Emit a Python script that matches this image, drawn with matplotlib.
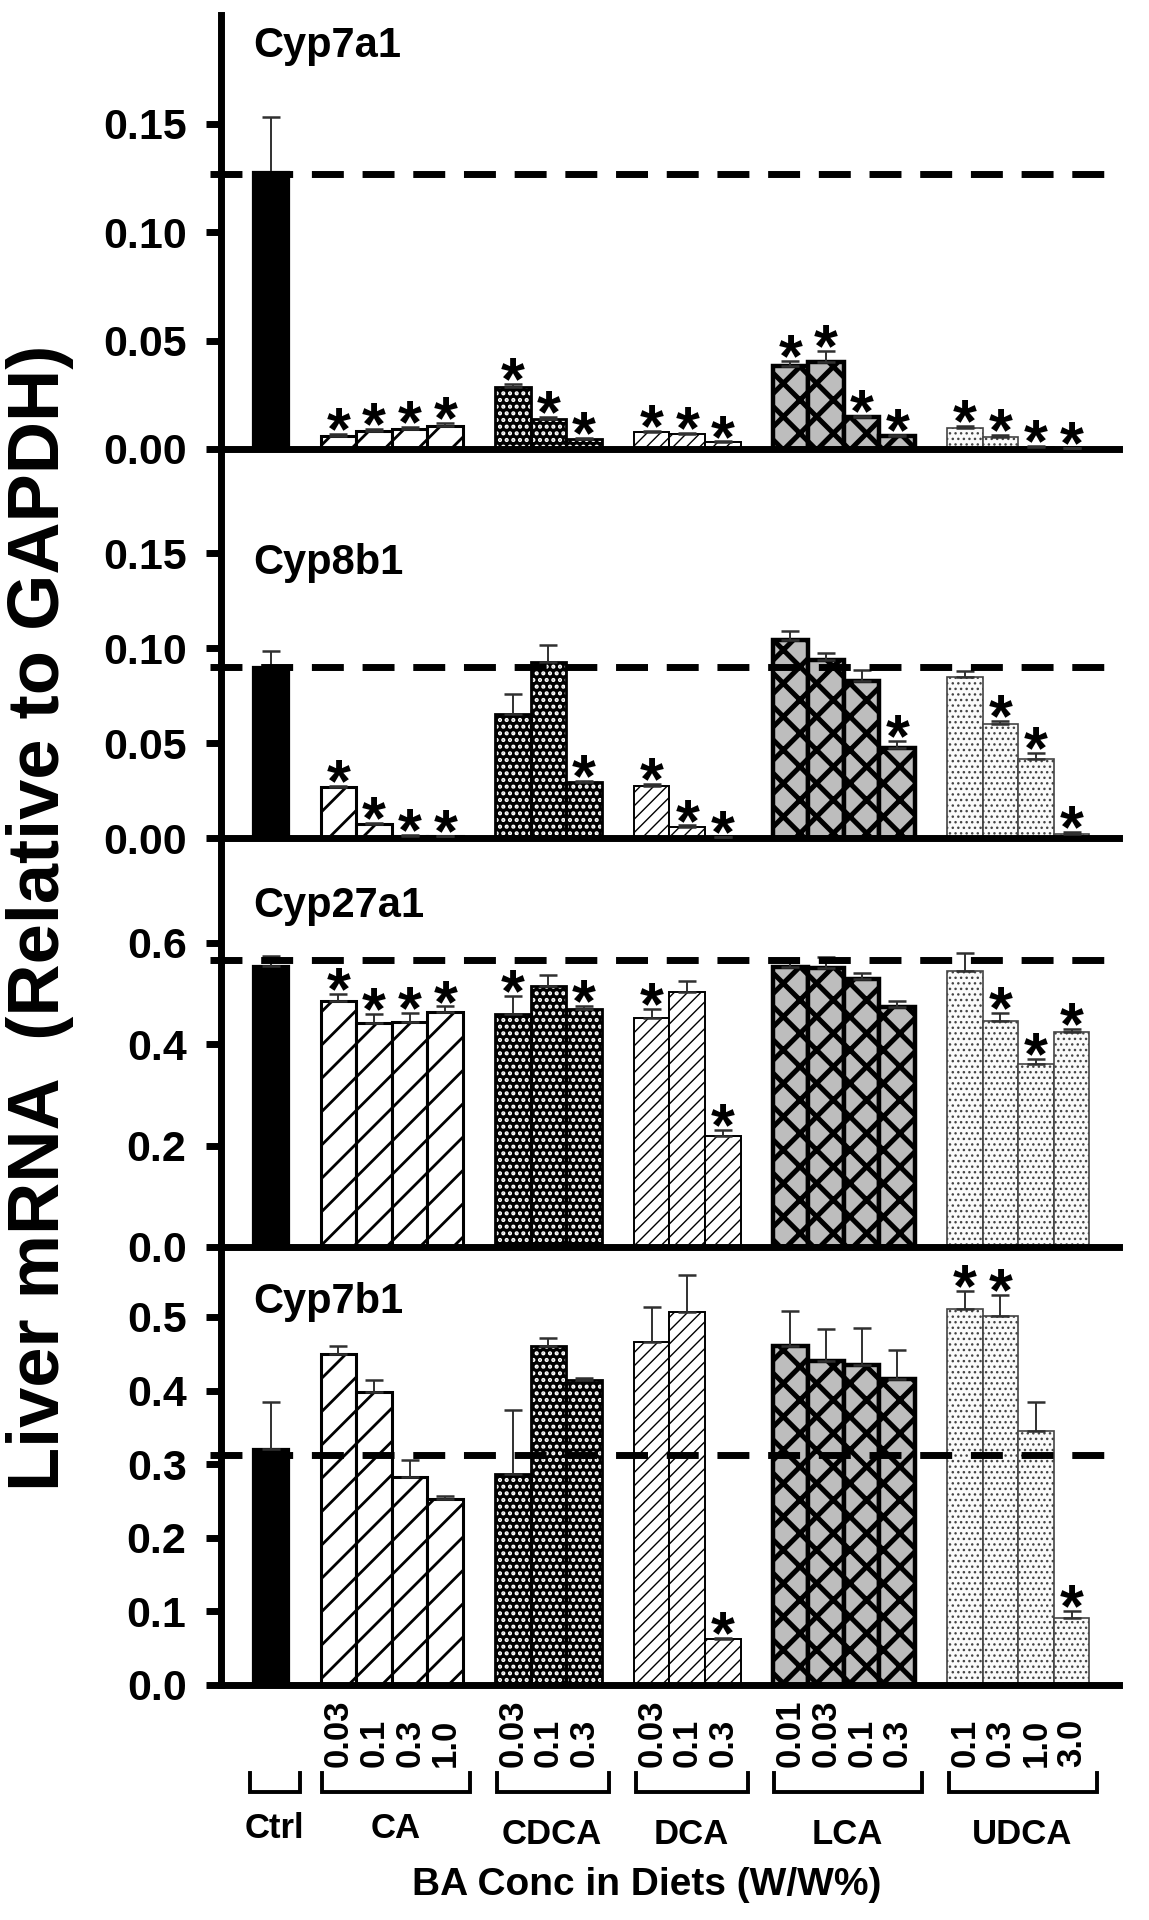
import matplotlib
matplotlib.use('Agg')
import matplotlib.pyplot as plt
import numpy as np
from matplotlib.transforms import blended_transform_factory
from matplotlib.lines import Line2D

plt.rcParams['font.family'] = ['Liberation Sans', 'DejaVu Sans']

# ---------------- data ----------------
group_names = ['Ctrl', 'CA', 'CDCA', 'DCA', 'LCA', 'UDCA']
ctrl_conc = ['']
ca_conc = ['0.03', '0.1', '0.3', '1.0']
cdca_conc = ['0.03', '0.1', '0.3']
dca_conc = ['0.03', '0.1', '0.3']
lca_conc = ['0.01', '0.03', '0.1', '0.3']
udca_conc = ['0.1', '0.3', '1.0', '3.0']
group_concs = [ctrl_conc, ca_conc, cdca_conc, dca_conc, lca_conc, udca_conc]

genes = ['Cyp7a1', 'Cyp8b1', 'Cyp27a1', 'Cyp7b1']

# order: Ctrl, CA x4, CDCA x3, DCA x3, LCA x4, UDCA x4
cyp7a1_mean = [0.128, 0.0062, 0.0085, 0.0092, 0.0108, 0.0288, 0.0138, 0.0046,
               0.0077, 0.0069, 0.0031, 0.0382, 0.0400, 0.0146, 0.0058,
               0.0095, 0.0054, 0.0010, 0.0003]
cyp7a1_err = [0.025, 0.0008, 0.0008, 0.0010, 0.0012, 0.0012, 0.0010, 0.0004,
              0.0006, 0.0005, 0.0004, 0.0023, 0.0054, 0.0006, 0.0006,
              0.0010, 0.0011, 0.0003, 0.0002]
cyp7a1_star = [0, 1, 1, 1, 1, 1, 1, 1, 1, 1, 1, 1, 1, 1, 1, 1, 1, 1, 1]
cyp7a1_ref = 0.127

cyp8b1_mean = [0.090, 0.0267, 0.0074, 0.0012, 0.0010, 0.0653, 0.0925, 0.0293,
               0.0276, 0.0060, 0.0005, 0.1043, 0.0938, 0.0829, 0.0472,
               0.0850, 0.0600, 0.0416, 0.0021]
cyp8b1_err = [0.0087, 0.0008, 0.0006, 0.0003, 0.0003, 0.0106, 0.0092, 0.0008,
              0.0009, 0.0006, 0.0002, 0.0049, 0.0035, 0.0056, 0.0041,
              0.0028, 0.0018, 0.0030, 0.0009]
cyp8b1_star = [0, 1, 1, 1, 1, 0, 0, 1, 1, 1, 1, 0, 0, 0, 1, 0, 1, 1, 1]
cyp8b1_ref = 0.090

cyp27a1_mean = [0.553, 0.485, 0.442, 0.444, 0.463, 0.459, 0.514, 0.469,
                0.452, 0.503, 0.218, 0.551, 0.549, 0.529, 0.473,
                0.543, 0.446, 0.360, 0.424]
cyp27a1_err = [0.020, 0.013, 0.017, 0.017, 0.011, 0.036, 0.022, 0.006,
               0.018, 0.022, 0.013, 0.010, 0.022, 0.010, 0.011,
               0.036, 0.016, 0.010, 0.005]
cyp27a1_star = [0, 1, 1, 1, 1, 1, 0, 1, 1, 0, 1, 0, 0, 0, 0, 0, 1, 1, 1]
cyp27a1_ref = 0.566

cyp7b1_mean = [0.321, 0.450, 0.398, 0.282, 0.252, 0.286, 0.460, 0.415,
               0.466, 0.507, 0.062, 0.461, 0.440, 0.435, 0.416,
               0.511, 0.501, 0.345, 0.091]
cyp7b1_err = [0.063, 0.010, 0.017, 0.023, 0.005, 0.088, 0.012, 0.002,
              0.048, 0.050, 0.002, 0.047, 0.043, 0.050, 0.039,
              0.024, 0.029, 0.039, 0.009]
cyp7b1_star = [0, 0, 0, 0, 0, 0, 0, 0, 0, 0, 1, 0, 0, 0, 0, 1, 1, 0, 1]
cyp7b1_ref = 0.312

yticks_7a1 = [0.00, 0.05, 0.10, 0.15]
yticks_8b1 = [0.00, 0.05, 0.10, 0.15]
yticks_27a1 = [0.0, 0.2, 0.4, 0.6]
yticks_7b1 = [0.0, 0.1, 0.2, 0.3, 0.4, 0.5]
ytl_7a1 = ['0.00', '0.05', '0.10', '0.15']
ytl_8b1 = ['0.00', '0.05', '0.10', '0.15']
ytl_27a1 = ['0.0', '0.2', '0.4', '0.6']
ytl_7b1 = ['0.0', '0.1', '0.2', '0.3', '0.4', '0.5']

panels = [
    (genes[0], cyp7a1_mean, cyp7a1_err, cyp7a1_star, cyp7a1_ref, yticks_7a1, ytl_7a1),
    (genes[1], cyp8b1_mean, cyp8b1_err, cyp8b1_star, cyp8b1_ref, yticks_8b1, ytl_8b1),
    (genes[2], cyp27a1_mean, cyp27a1_err, cyp27a1_star, cyp27a1_ref, yticks_27a1, ytl_27a1),
    (genes[3], cyp7b1_mean, cyp7b1_err, cyp7b1_star, cyp7b1_ref, yticks_7b1, ytl_7b1),
]

# ---------------- layout ----------------
W, H, DPI = 1149, 1920, 200
fig = plt.figure(figsize=(W / DPI, H / DPI), dpi=DPI)
fig.patch.set_facecolor('white')

def fx(px):
    return px / W

def fy(py):
    return 1 - py / H

AX_L, AX_R = 221, 1119
panel_px = [(15, 449), (449, 838), (838, 1247), (1247, 1685)]
ylims = [0.2003, 0.205, 0.806, 0.595]
title_y = [0.186, 0.145, 0.672, 0.52]
XLIM = (-0.9, 24.33)
GAP = 0.9

sizes = [len(c) for c in group_concs]
lefts = []
pos = 0.0
group_spans = []
for n in sizes:
    start = pos
    for k in range(n):
        lefts.append(pos)
        pos += 1.0
    group_spans.append((start, pos))
    pos += GAP
lefts = np.array(lefts)
centers = lefts + 0.5

group_of_bar = []
for gi, n in enumerate(sizes):
    group_of_bar += [gi] * n
group_of_bar = np.array(group_of_bar)

styles = {
    0: dict(face='black', edge='black', lw=0.8, hatch=None, hlw=0.5),
    1: dict(face='white', edge='black', lw=1.1, hatch='//', hlw=1.0),
    2: dict(face='black', edge='white', lw=0.0, hatch='.....', hlw=1.0),
    3: dict(face='white', edge='black', lw=0.7, hatch='/////', hlw=0.5),
    4: dict(face='#bdbdbd', edge='black', lw=1.6, hatch='xx', hlw=1.8),
    5: dict(face='#fafafa', edge='#444444', lw=0.6, hatch='......', hlw=0.5),
}

axes = []
for pi, (gene, mean, err, star, ref, yt, ytl) in enumerate(panels):
    top, bot = panel_px[pi]
    ax = fig.add_axes([fx(AX_L), fy(bot), fx(AX_R) - fx(AX_L), (bot - top) / H])
    ax.set_facecolor('none')
    mean = np.array(mean)
    err = np.array(err)
    for gi in range(len(group_names)):
        sel = group_of_bar == gi
        st = styles[gi]
        with plt.rc_context({'hatch.linewidth': st['hlw']}):
            bars = ax.bar(centers[sel], mean[sel], width=1.0, color=st['face'],
                          edgecolor=st['edge'], linewidth=st['lw'],
                          hatch=st['hatch'], zorder=2)
            for b in bars:
                if hasattr(b, 'set_hatch_linewidth'):
                    b.set_hatch_linewidth(st['hlw'])
        if gi == 2:
            ax.bar(centers[sel], mean[sel], width=1.0, color='none',
                   edgecolor='black', linewidth=1.0, zorder=2.5)
    ax.errorbar(centers, mean, yerr=[np.zeros_like(err), err], fmt='none',
                ecolor='#303030', elinewidth=0.7, capsize=3.2, capthick=0.9,
                zorder=3)
    for c, m, e, s in zip(centers, mean, err, star):
        if s:
            ax.annotate('*', xy=(c, m + e), xytext=(0, -5.5),
                        textcoords='offset points', ha='center', va='baseline',
                        fontsize=22, fontweight='bold', zorder=7)
    ax.plot([-1.21, 24.38], [ref, ref], color='black', lw=2.5,
            linestyle=(0, (4.6, 2.7)), dash_capstyle='butt', clip_on=False,
            zorder=6)
    ax.set_xlim(*XLIM)
    ax.set_ylim(0, ylims[pi])
    ax.set_yticks(yt)
    ax.set_yticklabels(ytl, fontweight='bold', fontsize=15.5)
    ax.set_xticks([])
    for side in ['top', 'right']:
        ax.spines[side].set_visible(False)
    for side in ['left', 'bottom']:
        ax.spines[side].set_linewidth(2.5)
    ax.tick_params(axis='y', direction='out', length=5.4, width=2.5, pad=7)
    ax.text(0.0, title_y[pi], gene, ha='left', va='center', fontsize=15,
            fontweight='bold')
    axes.append(ax)

# ---------------- x-axis annotations ----------------
ax4 = axes[-1]
tr = blended_transform_factory(ax4.transData, fig.transFigure)
conc_labels = [c for g in group_concs for c in g]
for c, lab in zip(centers, conc_labels):
    if lab:
        ax4.text(c, fy(1767), lab, transform=tr, rotation=90, ha='center',
                 va='bottom', fontsize=12.5, fontweight='bold')

label_y_px = [1828, 1828, 1834, 1834, 1834, 1834]
for gi, (s, e) in enumerate(group_spans):
    l, r = s + 0.05, e + 0.2
    if gi == 0:
        l, r = s - 0.08, e + 0.32
    fig.add_artist(Line2D([l, l, r, r], [fy(1773), fy(1792), fy(1792), fy(1773)],
                          transform=tr, color='black', lw=1.4,
                          solid_joinstyle='miter', clip_on=False))
    ax4.text((s + e) / 2 + 0.1, fy(label_y_px[gi]), group_names[gi], transform=tr,
             ha='center', va='center', fontsize=12.5, fontweight='bold')

fig.text(fx(647), fy(1885), 'BA Conc in Diets (W/W%)', ha='center',
         va='center', fontsize=14, fontweight='bold')
fig.text(fx(40), fy(918), 'Liver mRNA  (Relative to GAPDH)', rotation=90,
         ha='center', va='center', fontsize=26, fontweight='bold')

fig.savefig('out.png', dpi=DPI, facecolor='white')
